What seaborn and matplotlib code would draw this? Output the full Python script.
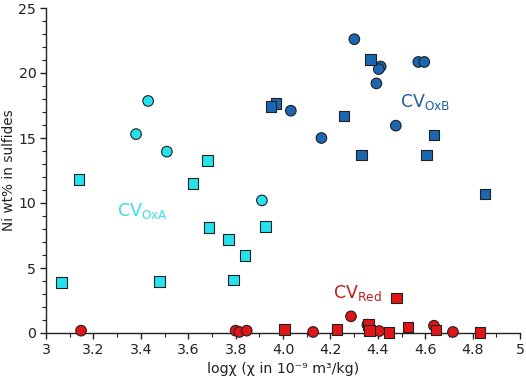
import matplotlib
matplotlib.use('Agg')
import matplotlib.pyplot as plt
from matplotlib.ticker import MultipleLocator
import seaborn as sns
import pandas as pd

# CV OxA (cyan)
oxa_circle_x = [3.380, 3.431, 3.510, 3.911]
oxa_circle_y = [15.3, 17.85, 13.95, 10.2]
oxa_square_x = [3.066, 3.139, 3.480, 3.620, 3.681, 3.688, 3.770, 3.840, 3.792, 3.926]
oxa_square_y = [3.9, 11.8, 3.98, 11.5, 13.28, 8.1, 7.18, 5.95, 4.08, 8.2]

# CV OxB (blue)
oxb_circle_x = [4.301, 4.412, 4.404, 4.394, 4.571, 4.596, 4.033, 4.162, 4.476]
oxb_circle_y = [22.6, 20.5, 20.3, 19.2, 20.85, 20.85, 17.1, 15.0, 15.95]
oxb_square_x = [4.370, 3.970, 3.950, 4.258, 4.332, 4.637, 4.605, 4.852]
oxb_square_y = [21.05, 17.67, 17.44, 16.69, 13.69, 15.23, 13.69, 10.7]

# CV Red (red)
red_circle_x = [3.148, 3.800, 3.816, 3.847, 4.127, 4.287, 4.356, 4.406, 4.637, 4.717]
red_circle_y = [0.18, 0.18, 0.08, 0.18, 0.08, 1.28, 0.64, 0.15, 0.56, 0.08]
red_square_x = [4.006, 4.228, 4.360, 4.366, 4.447, 4.478, 4.527, 4.646, 4.831]
red_square_y = [0.26, 0.26, 0.67, 0.2, 0.05, 2.69, 0.46, 0.23, 0.05]

groups = {
    ('OxA', 'circle'): (oxa_circle_x, oxa_circle_y),
    ('OxA', 'square'): (oxa_square_x, oxa_square_y),
    ('OxB', 'circle'): (oxb_circle_x, oxb_circle_y),
    ('OxB', 'square'): (oxb_square_x, oxb_square_y),
    ('Red', 'circle'): (red_circle_x, red_circle_y),
    ('Red', 'square'): (red_square_x, red_square_y),
}
rows = []
for (grp, shape), (xs, ys) in groups.items():
    for x, y in zip(xs, ys):
        rows.append({'logchi': x, 'ni': y, 'group': grp, 'shape': shape})
df = pd.DataFrame(rows)

fill_colors = {'OxA': '#25e3ee', 'OxB': '#1b67b2', 'Red': '#e01616'}
text_colors = {'OxA': '#3edde8', 'OxB': '#1d5f9f', 'Red': '#c41a1a'}

sns.set_style("ticks")
plt.rcParams['font.family'] = ['DejaVu Sans']

fig = plt.figure(figsize=(5.26, 3.84), dpi=100)
ax = fig.add_axes([46 / 526, 51 / 384, 474 / 526, 325 / 384])

sns.scatterplot(data=df, x='logchi', y='ni', hue='group', style='shape',
                palette=fill_colors, markers={'circle': 'o', 'square': 's'},
                s=58, edgecolor='#202020', linewidth=0.8, legend=False,
                zorder=3, clip_on=False, ax=ax)

ax.set_xlim(3, 5)
ax.set_ylim(0, 25)
ax.xaxis.set_minor_locator(MultipleLocator(0.1))
ax.yaxis.set_major_locator(MultipleLocator(5))
ax.yaxis.set_minor_locator(MultipleLocator(1))
ax.set_xticks([3, 3.2, 3.4, 3.6, 3.8, 4, 4.2, 4.4, 4.6, 4.8, 5])
ax.set_xticklabels(['3', '3.2', '3.4', '3.6', '3.8', '4.0', '4.2', '4.4', '4.6', '4.8', '5'])
ax.tick_params(axis='both', which='major', direction='out', length=4, width=1,
               labelsize=10.2, colors='#222222', pad=3)
ax.tick_params(axis='both', which='minor', direction='out', length=3, width=0.8,
               colors='#222222')
sns.despine(ax=ax)
for side in ['left', 'bottom']:
    ax.spines[side].set_linewidth(1)
    ax.spines[side].set_color('#222222')

ax.set_xlabel('log\u03c7 (\u03c7 in 10\u207b\u2079 m\u00b3/kg)', fontsize=10.2, color='#222222', labelpad=4)
ax.set_ylabel('Ni wt% in sulfides', fontsize=9.8, color='#222222', labelpad=2)

ax.text(3.30, 9.0, r'CV$_{\mathregular{OxA}}$', fontsize=12.5, color=text_colors['OxA'])
ax.text(4.494, 17.4, r'CV$_{\mathregular{OxB}}$', fontsize=12.5, color=text_colors['OxB'])
ax.text(4.211, 2.7, r'CV$_{\mathregular{Red}}$', fontsize=12.5, color=text_colors['Red'])

fig.savefig('out.png', dpi=100)
